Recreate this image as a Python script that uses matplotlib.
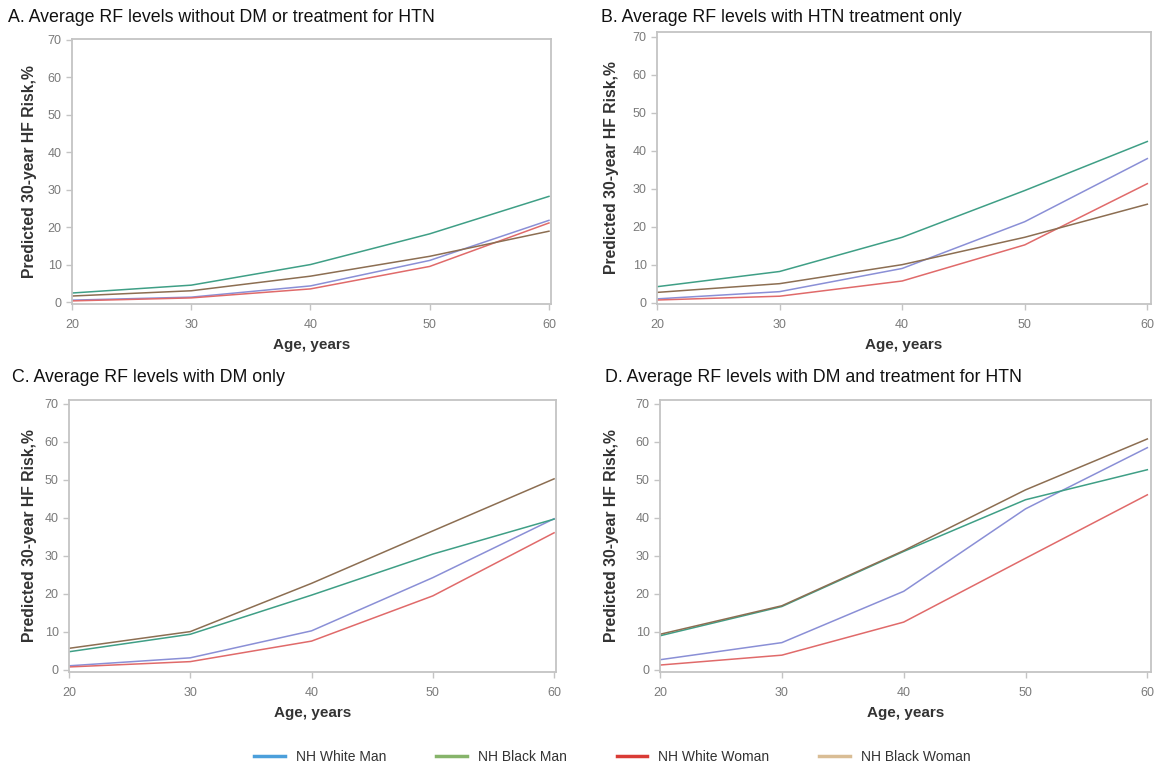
import matplotlib
matplotlib.use("Agg")
import matplotlib.pyplot as plt
from matplotlib.lines import Line2D

plt.rcParams['font.family'] = ['Liberation Sans', 'DejaVu Sans']

ages = [20, 30, 40, 50, 60]
series_names = ["NH White Man", "NH Black Man", "NH White Woman", "NH Black Woman"]

panel_titles = [
    "A. Average RF levels without DM or treatment for HTN",
    "B. Average RF levels with HTN treatment only",
    "C. Average RF levels with DM only",
    "D. Average RF levels with DM and treatment for HTN",
]

# Panel A
a_white_man = [0.5, 1.3, 4.3, 11.1, 21.8]
a_black_man = [2.4, 4.5, 10.0, 18.2, 28.2]
a_white_woman = [0.3, 1.1, 3.5, 9.5, 21.1]
a_black_woman = [1.6, 3.0, 6.9, 12.2, 18.9]
# Panel B
b_white_man = [1.0, 2.9, 9.0, 21.3, 37.9]
b_black_man = [4.2, 8.2, 17.2, 29.5, 42.4]
b_white_woman = [0.7, 1.7, 5.7, 15.2, 31.3]
b_black_woman = [2.7, 5.0, 10.0, 17.2, 25.9]
# Panel C
c_white_man = [1.1, 3.2, 10.3, 24.3, 39.8]
c_black_man = [4.8, 9.4, 19.7, 30.5, 39.7]
c_white_woman = [0.8, 2.2, 7.6, 19.5, 36.1]
c_black_woman = [5.7, 10.1, 22.8, 36.6, 50.3]
# Panel D
d_white_man = [2.7, 7.2, 20.7, 42.4, 58.5]
d_black_man = [9.0, 16.7, 31.2, 44.8, 52.7]
d_white_woman = [1.3, 3.9, 12.6, 29.4, 46.1]
d_black_woman = [9.4, 16.9, 31.4, 47.4, 60.8]

panels = [
    [a_white_man, a_black_man, a_white_woman, a_black_woman],
    [b_white_man, b_black_man, b_white_woman, b_black_woman],
    [c_white_man, c_black_man, c_white_woman, c_black_woman],
    [d_white_man, d_black_man, d_white_woman, d_black_woman],
]

line_colors = ["#8a8fd6", "#3f9f86", "#e06a6a", "#8c6e52"]
legend_colors = ["#4b9fdb", "#86b46a", "#d93b35", "#d9bd95"]

W, H = 1162, 769
fig = plt.figure(figsize=(W / 100, H / 100), dpi=100)

def rect(l, r, t, b):
    return [l / W, 1 - b / H, (r - l) / W, (b - t) / H]

# (l, r, t, b, ylim, xlim_right, title_x, title_y, ylabel_x, xlabel_y)
layout = [
    (72, 551, 39, 304, (-0.53, 70.2), 60.17, 8, 17, 30, 345),
    (657, 1151, 32, 304, (-0.35, 71.2), 60.3, 601, 17, 611, 345),
    (69, 556, 400, 672, (-0.53, 71.05), 60.16, 12, 377, 30, 713),
    (660, 1151, 400, 672, (-0.53, 71.05), 60.3, 605, 377, 611, 713),
]

grey = "#c4c4c4"
for i, (l, r, t, b, yl, xr, tx, ty, ylx, xly) in enumerate(layout):
    ax = fig.add_axes(rect(l, r, t, b))
    for s, c in zip(panels[i], line_colors):
        ax.plot(ages, s, color=c, lw=1.1)
    ax.set_xlim(20, xr)
    ax.set_ylim(*yl)
    ax.set_xticks(ages)
    ax.set_yticks(range(0, 71, 10))
    for sp in ax.spines.values():
        sp.set_color(grey)
        sp.set_linewidth(1.3)
    ax.tick_params(colors=grey, labelcolor="#7a7a7a", labelsize=9,
                   length=4.5, width=1.0, pad=3)
    ax.tick_params(axis='x', pad=6)
    fig.text(tx / W, 1 - ty / H, panel_titles[i], fontsize=12.8, color="#111111",
             ha="left", va="center")
    fig.text(ylx / W, 1 - ((t + b) / 2) / H, "Predicted 30-year HF Risk,%",
             rotation=90, fontsize=11.3, fontweight="bold", color="#333333",
             ha="center", va="center")
    fig.text(((l + r) / 2) / W, 1 - xly / H, "Age, years", fontsize=11,
             fontweight="bold", color="#333333", ha="center", va="center")

handles = [Line2D([0], [0], color=c, lw=2.5) for c in legend_colors]
fig.legend(handles, series_names, loc="center", bbox_to_anchor=(0.527, 1 - 757 / H),
           ncol=4, frameon=False, fontsize=10, handlelength=2.2, columnspacing=3.6,
           labelcolor="#333333")

fig.savefig("out.png", dpi=100, facecolor="white")
